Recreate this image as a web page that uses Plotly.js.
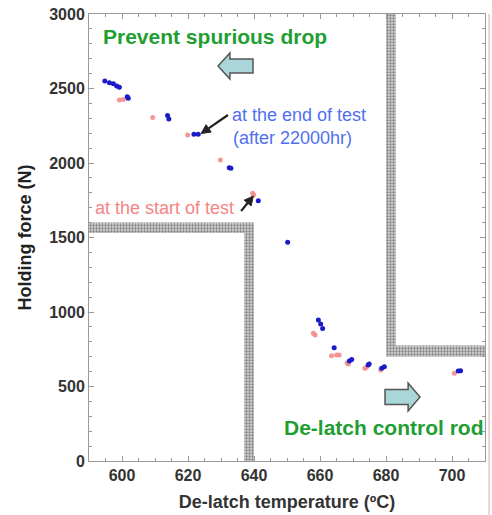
<!DOCTYPE html>
<html>
<head>
<meta charset="utf-8">
<script src="https://cdn.plot.ly/plotly-3.0.1.min.js"></script>
<style>html,body{margin:0;padding:0;background:#fff;}#chart{width:492px;height:515px;}</style>
</head>
<body>
<div id="chart"></div>
<script>
// Blue: at the end of test (after 22000hr)
var blueTemp  = [594.8, 596.2, 597.4, 598.4, 599.2, 601.6, 601.9, 613.8, 614.2, 621.8, 623.1, 632.5, 633.0, 641.3, 650.2, 659.5, 660.2, 660.8, 664.3, 668.9, 669.6, 674.6, 674.9, 678.7, 679.5, 701.9, 702.6];
var blueForce = [2550, 2539, 2532, 2517, 2508, 2445, 2434, 2318, 2295, 2193, 2193, 1968, 1964, 1747, 1468, 946, 919, 890, 760, 671, 682, 644, 651, 622, 633, 604, 606];
// Pink: at the start of test
var pinkTemp  = [599.2, 600.4, 609.3, 619.9, 629.8, 639.6, 639.9, 658.0, 658.5, 663.5, 665.0, 665.8, 668.2, 668.6, 673.6, 674.0, 678.4, 700.7];
var pinkForce = [2423, 2427, 2305, 2188, 2020, 1797, 1785, 857, 846, 707, 711, 711, 660, 651, 622, 628, 611, 589];
// Limit bands (boundaries)
var bandLeftX  = [590, 640, 640, 637, 637, 590, 590];
var bandLeftY  = [1600, 1600, 0, 0, 1530, 1530, 1600];
var bandRightX = [680, 683, 683, 710, 710, 680, 680];
var bandRightY = [3000, 3000, 775, 775, 700, 700, 3000];

var xTickVals = [600, 620, 640, 660, 680, 700];
var yTickVals = [0, 500, 1000, 1500, 2000, 2500, 3000];

var XR = [590, 710], YR = [0, 3000];
var W = 492, H = 515, ML = 89, MR = 7, MT = 14, MB = 54;
var kx = (W - ML - MR) / (XR[1] - XR[0]);
var ky = (H - MT - MB) / (YR[1] - YR[0]);
var FAM = 'Liberation Sans, Arial, sans-serif';

var pattern = {shape: '.', bgcolor: '#d4d4d4', fgcolor: '#808080', size: 3, solidity: 0.45};

var traces = [
  {x: bandLeftX, y: bandLeftY, mode: 'lines', fill: 'toself', line: {width: 0, color: 'rgba(0,0,0,0)'},
   fillcolor: '#b8b8b8', fillpattern: pattern, hoverinfo: 'skip', showlegend: false},
  {x: bandRightX, y: bandRightY, mode: 'lines', fill: 'toself', line: {width: 0, color: 'rgba(0,0,0,0)'},
   fillcolor: '#b8b8b8', fillpattern: pattern, hoverinfo: 'skip', showlegend: false},
  {x: pinkTemp, y: pinkForce, mode: 'markers', type: 'scatter',
   marker: {color: '#f48c8c', size: 5, opacity: 0.9}, showlegend: false},
  {x: blueTemp, y: blueForce, mode: 'markers', type: 'scatter',
   marker: {color: '#1a1ac8', size: 5}, showlegend: false}
];

function blockArrow(tip, headBase, bodyEnd, yc, headHalf, bodyHalf) {
  return 'M ' + tip + ' ' + yc +
    ' L ' + headBase + ' ' + (yc + headHalf) +
    ' L ' + headBase + ' ' + (yc + bodyHalf) +
    ' L ' + bodyEnd + ' ' + (yc + bodyHalf) +
    ' L ' + bodyEnd + ' ' + (yc - bodyHalf) +
    ' L ' + headBase + ' ' + (yc - bodyHalf) +
    ' L ' + headBase + ' ' + (yc - headHalf) + ' Z';
}

// thin black pointer arrow from (x0,y0) to (x1,y1), data coords; head sized in pixels
function pointer(x0, y0, x1, y1) {
  var dxp = (x1 - x0) * kx, dyp = (y1 - y0) * ky;
  var len = Math.sqrt(dxp * dxp + dyp * dyp);
  var ux = dxp / len, uy = dyp / len;
  var hl = 9, hw = 4.5;
  var bx = x1 - ux * hl / kx, by = y1 - uy * hl / ky;
  var px = -uy, py = ux;
  var p1x = bx + px * hw / kx, p1y = by + py * hw / ky;
  var p2x = bx - px * hw / kx, p2y = by - py * hw / ky;
  return [
    {type: 'line', xref: 'x', yref: 'y', x0: x0, y0: y0, x1: bx, y1: by, line: {color: '#222', width: 2.2}},
    {type: 'path', xref: 'x', yref: 'y', path: 'M ' + x1 + ' ' + y1 + ' L ' + p1x + ' ' + p1y + ' L ' + p2x + ' ' + p2y + ' Z',
     fillcolor: '#222', line: {color: '#222', width: 1}}
  ];
}

var shapes = [
  {type: 'path', xref: 'x', yref: 'y', path: blockArrow(629.1, 632.7, 639.7, 2651, 87, 47),
   fillcolor: '#a9d6d8', line: {color: '#555', width: 1.5}},
  {type: 'path', xref: 'x', yref: 'y', path: blockArrow(690.3, 686.7, 679.7, 430, 94, 50),
   fillcolor: '#a9d6d8', line: {color: '#555', width: 1.5}},
  {type: 'line', xref: 'paper', yref: 'paper', x0: 1.0101, x1: 1.0101, y0: 1.0, y1: -0.13,
   line: {color: '#f2a3a3', width: 1}}
].concat(pointer(632.1, 2322, 624.0, 2198)).concat(pointer(636.1, 1678, 639.8, 1778));

var annotations = [
  {xref: 'x', yref: 'y', x: 593.6, y: 2846, xanchor: 'left', yanchor: 'middle', showarrow: false,
   text: 'Prevent spurious drop', font: {family: FAM, size: 21, weight: 'bold', color: '#1f9e32'}},
  {xref: 'x', yref: 'y', x: 648.5, y: 228, xanchor: 'left', yanchor: 'middle', showarrow: false,
   text: 'De-latch control rod', font: {family: FAM, size: 21, weight: 'bold', color: '#1f9e32'}},
  {xref: 'x', yref: 'y', x: 632.7, y: 2322, xanchor: 'left', yanchor: 'middle', showarrow: false,
   text: 'at the end of test', font: {family: FAM, size: 18, color: '#4f6ff0'}},
  {xref: 'x', yref: 'y', x: 632.9, y: 2168, xanchor: 'left', yanchor: 'middle', showarrow: false,
   text: '(after 22000hr)', font: {family: FAM, size: 18, color: '#4f6ff0'}},
  {xref: 'x', yref: 'y', x: 591.2, y: 1698, xanchor: 'left', yanchor: 'middle', showarrow: false,
   text: 'at the start of test', font: {family: FAM, size: 18, color: '#f58484'}}
];

var tickFont = {family: FAM, size: 16, weight: 'bold', color: '#333'};

var layout = {
  width: W, height: H,
  margin: {l: ML, r: MR, t: MT, b: MB, pad: 0},
  paper_bgcolor: '#fff', plot_bgcolor: '#fff',
  showlegend: false,
  xaxis: {
    range: XR, tickmode: 'array', tickvals: xTickVals,
    ticks: 'inside', ticklen: 5, tickcolor: '#999', showline: true, linecolor: '#999', linewidth: 1, mirror: 'ticks',
    showgrid: false, zeroline: false, tickfont: tickFont,
    minor: {dtick: 5, tick0: 590, ticks: 'inside', ticklen: 3, tickcolor: '#999', showgrid: false},
    title: {text: 'De-latch temperature (ºC)', font: {family: FAM, size: 18, weight: 'bold', color: '#333'}, standoff: 12}
  },
  yaxis: {
    range: YR, tickmode: 'array', tickvals: yTickVals,
    ticks: 'inside', ticklen: 5, tickcolor: '#999', showline: true, linecolor: '#999', linewidth: 1, mirror: 'ticks',
    showgrid: false, zeroline: false, tickfont: tickFont,
    minor: {dtick: 100, tick0: 0, ticks: 'inside', ticklen: 3, tickcolor: '#999', showgrid: false},
    title: {text: 'Holding force (N)', font: {family: FAM, size: 18, weight: 'bold', color: '#222'}, standoff: 12}
  },
  shapes: shapes,
  annotations: annotations
};

Plotly.newPlot('chart', traces, layout, {displayModeBar: false, staticPlot: true});
</script>
</body>
</html>
